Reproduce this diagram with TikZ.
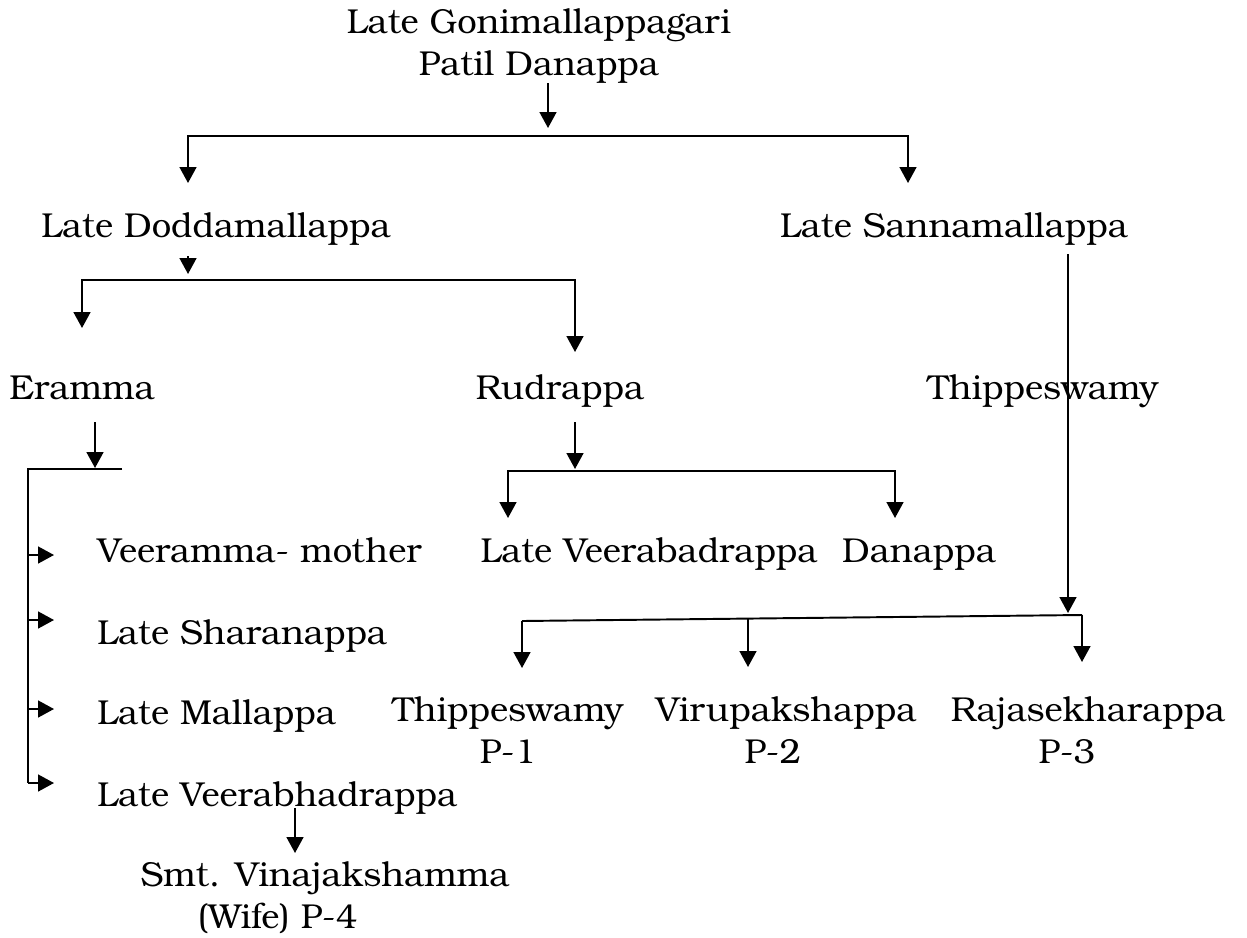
\documentclass[tikz,border=0pt]{standalone}
\usepackage{fontspec}
\setmainfont{TeX Gyre Bonum}
\usetikzlibrary{arrows.meta}
\tikzset{
  person/.style={inner sep=0pt, anchor=base, align=center,
    font=\fontsize{19.7pt}{23.4pt}\selectfont},
  arr/.style={-{Triangle[length=9pt,width=9.5pt]}, line width=1.1pt},
  link/.style={line width=1.1pt}
}
\begin{document}
\begin{tikzpicture}[x=0.02cm,y=-0.02cm]
  \useasboundingbox (0,0) rectangle (1247,937);
  % people (two-line nodes sit on their last baseline)
  \node[person] (gp) at (539,75) {Late Gonimallappagari\\Patil Danappa};
  \node[person] (dm) at (216,237) {Late Doddamallappa};
  \node[person] (sm) at (954,237) {Late Sannamallappa};
  \node[person] (er) at (82,399) {Eramma};
  \node[person] (ru) at (560,399) {Rudrappa};
  \node[person] (th) at (1043,399) {Thippeswamy};
  \node[person, anchor=base west] (vm) at (97,562) {Veeramma- mother};
  \node[person] (vb) at (649,562) {Late Veerabadrappa};
  \node[person] (dn) at (919,562) {Danappa};
  \node[person, anchor=base west] (sh) at (97,644) {Late Sharanappa};
  \node[person, anchor=base west] (ml) at (97,724) {Late Mallappa};
  \node[person, anchor=base west] (vh) at (97,806) {Late Veerabhadrappa};
  \node[person] (p1) at (508,763) {Thippeswamy\\P-1};
  \node[person] (p2) at (786,763) {Virupakshappa\\P-2\hspace*{15pt}};
  \node[person] (p3) at (1088,763) {Rajasekharappa\\P-3\hspace*{24pt}};
  \node[person] (p4) at (325,928) {Smt. Vinajakshamma\\(Wife) P-4\hspace*{54pt}};
  % Gonimallappagari Patil Danappa
  \coordinate (gp-in) at (548,128);
  \coordinate (b1) at (548,136);
  \coordinate (dm-in) at (188,183);
  \coordinate (sm-in) at (908,183);
  \draw[arr] (gp.south -| gp-in) -- (gp-in);
  \draw[arr] (b1) -| (dm-in);
  \draw[arr] (b1) -| (sm-in);
  % Doddamallappa
  \coordinate (dm-out) at (188,256);
  \coordinate (dm-tip) at (188,274);
  \coordinate (b2) at (188,280);
  \coordinate (er-in) at (82,328);
  \coordinate (ru-in) at (575,352);
  \draw[arr] (dm-out) -- (dm-tip);
  \draw[arr] (b2) -| (er-in);
  \draw[arr] (b2) -| (ru-in);
  % Eramma
  \coordinate (er-out) at (95,422);
  \coordinate (er-tip) at (95,468);
  \coordinate (b3) at (28,469);
  \coordinate (b3e) at (122,469);
  \draw[arr] (er-out) -- (er-tip);
  \foreach \n/\y in {vm/555, sh/620, ml/709, vh/783}{
    \coordinate (\n-tip) at (54,\y);
    \draw[arr] (b3 |- \n-tip) -- (\n-tip);
  }
  \draw[link] (b3e) -- (b3) -- (b3 |- vh-tip);
  % Rudrappa
  \coordinate (ru-out) at (575,422);
  \coordinate (ru-tip) at (575,469);
  \coordinate (b4) at (575,471);
  \coordinate (vb-in) at (508,518);
  \coordinate (dn-in) at (895,518);
  \draw[arr] (ru-out) -- (ru-tip);
  \draw[arr] (b4) -| (vb-in);
  \draw[arr] (b4) -| (dn-in);
  % Sannamallappa
  \coordinate (sm-out) at (1068,254);
  \coordinate (sm-tip) at (1068,613);
  \coordinate (b5l) at (522,621);
  \coordinate (b5m) at (748,619);
  \coordinate (b5r) at (1082,615);
  \coordinate (p1-in) at (522,668);
  \coordinate (p2-in) at (748,667);
  \coordinate (p3-in) at (1082,662);
  \draw[arr] (sm-out) -- (sm-tip);
  \draw[link] (b5l) -- (b5r);
  \draw[arr] (b5l) -- (p1-in);
  \draw[arr] (b5m) -- (p2-in);
  \draw[arr] (b5r) -- (p3-in);
  % Veerabhadrappa
  \coordinate (vh-out) at (295,808);
  \coordinate (p4-in) at (295,853);
  \draw[arr] (vh-out) -- (p4-in);
\end{tikzpicture}
\end{document}
